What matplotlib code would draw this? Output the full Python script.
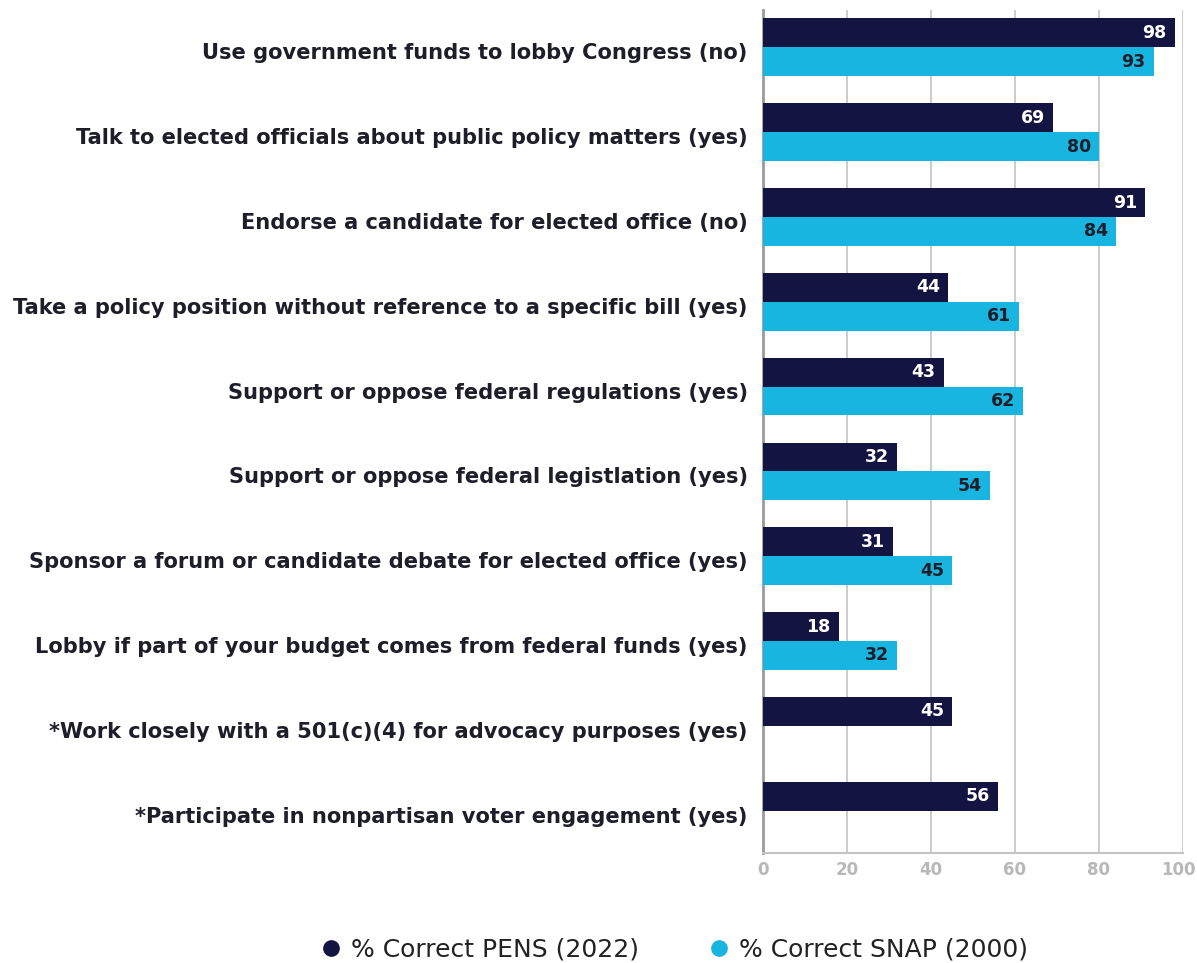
"""Horizontal grouped bars: share of correct answers, PENS 2022 vs SNAP 2000."""

import matplotlib

matplotlib.use("Agg")
import matplotlib.pyplot as plt
import matplotlib.transforms as mtransforms
import numpy as np
from matplotlib.lines import Line2D

questions = [
    "Use government funds to lobby Congress (no)",
    "Talk to elected officials about public policy matters (yes)",
    "Endorse a candidate for elected office (no)",
    "Take a policy position without reference to a specific bill (yes)",
    "Support or oppose federal regulations (yes)",
    "Support or oppose federal legistlation (yes)",
    "Sponsor a forum or candidate debate for elected office (yes)",
    "Lobby if part of your budget comes from federal funds (yes)",
    "*Work closely with a 501(c)(4) for advocacy purposes (yes)",
    "*Participate in nonpartisan voter engagement (yes)",
]
pens_2022 = [98, 69, 91, 44, 43, 32, 31, 18, 45, 56]
snap_2000 = [93, 80, 84, 61, 62, 54, 45, 32, None, None]
x_ticks = [0, 20, 40, 60, 80, 100]

DARK = "#141442"
LIGHT = "#17b5e0"
GRID = "#c4c4c4"
TICK = "#b8b8b8"

plt.rcParams["font.family"] = ["DejaVu Sans"]

fig = plt.figure(figsize=(11.97, 9.63), dpi=100)
ax = fig.add_axes([763 / 1197, 1 - 853 / 963, 420 / 1197, 843 / 963])

y = np.arange(len(questions))
h = 0.34

ax.barh(y - h / 2, pens_2022, height=h, color=DARK, zorder=3)
snap_idx = [i for i, v in enumerate(snap_2000) if v is not None]
snap_vals = [snap_2000[i] for i in snap_idx]
ax.barh(np.array(snap_idx) + h / 2, snap_vals, height=h, color=LIGHT, zorder=3)

for i, v in enumerate(pens_2022):
    ax.text(v - 1.9, i - h / 2, str(v), ha="right", va="center",
            color="white", fontsize=12.5, fontweight="bold", zorder=4)
for i, v in zip(snap_idx, snap_vals):
    ax.text(v - 1.9, i + h / 2, str(v), ha="right", va="center",
            color="#1e1e2a", fontsize=12.5, fontweight="bold", zorder=4)

ax.set_xlim(0, 100)
ax.set_ylim(9.5, -0.44)
ax.set_xticks(x_ticks)
ax.set_xticklabels([str(t) for t in x_ticks], color=TICK, fontsize=12, fontweight="bold")
ax.tick_params(axis="x", length=0, pad=6)
# keep the last tick label inside the canvas
shift = mtransforms.ScaledTranslation(-5 / 100, 0, fig.dpi_scale_trans)
last = ax.get_xticklabels()[-1]
last.set_transform(last.get_transform() + shift)

ax.set_yticks(y)
ax.set_yticklabels(questions, fontsize=15.1, fontweight="bold", color="#1e1e2a",
                   va="center")
ax.tick_params(axis="y", length=0, pad=11)
for lbl in ax.get_yticklabels():
    lbl.set_transform(lbl.get_transform()
                      + mtransforms.ScaledTranslation(0, -6 / 100, fig.dpi_scale_trans))

ax.grid(axis="x", color=GRID, linewidth=1.2, zorder=0)
for side in ("top", "right"):
    ax.spines[side].set_visible(False)
ax.spines["left"].set_color("#9a9a9a")
ax.spines["left"].set_linewidth(2)
ax.spines["bottom"].set_color(GRID)
ax.spines["bottom"].set_linewidth(1.5)

handles = [
    Line2D([], [], marker="o", linestyle="", markersize=11, color=DARK),
    Line2D([], [], marker="o", linestyle="", markersize=11, color=LIGHT),
]
fig.legend(handles, ["% Correct PENS (2022)", "% Correct SNAP (2000)"],
           loc="center", bbox_to_anchor=(0.561, 0.014), ncol=2, frameon=False,
           fontsize=18, handletextpad=0.2, handlelength=1.2, columnspacing=2.6,
           labelcolor="#222222")

fig.savefig("out.png", dpi=100)
